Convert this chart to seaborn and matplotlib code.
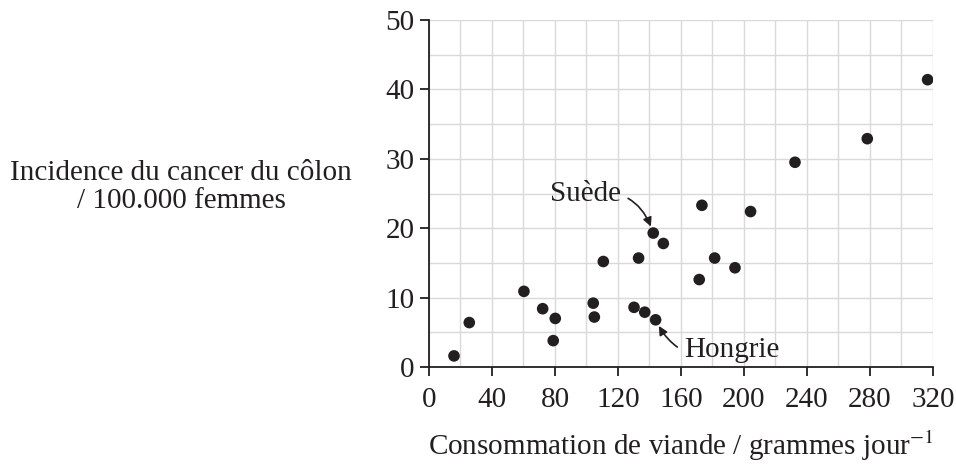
import numpy as np
import pandas as pd
import matplotlib
matplotlib.use("Agg")
import matplotlib.pyplot as plt
import seaborn as sns
from matplotlib.ticker import MultipleLocator

# Meat consumption (g/day) vs colon cancer incidence per 100,000 women
viande = [15.9, 25.6, 60.3, 72.2, 80.2, 78.9, 104.3, 105.0, 110.7, 133.1,
          142.4, 148.8, 130.2, 137.0, 143.9, 173.3, 204.2, 181.4, 194.3,
          171.6, 232.4, 278.3, 316.6]
incidence = [1.6, 6.4, 10.9, 8.4, 7.0, 3.8, 9.2, 7.2, 15.2, 15.7,
             19.3, 17.8, 8.6, 7.9, 6.8, 23.3, 22.4, 15.7, 14.3,
             12.6, 29.5, 32.9, 41.4]

x_ticks = [0, 40, 80, 120, 160, 200, 240, 280, 320]
y_ticks = [0, 10, 20, 30, 40, 50]

df = pd.DataFrame({"viande": viande, "incidence": incidence})

sns.set_theme(style="white")
plt.rcParams["font.family"] = ["Liberation Serif", "DejaVu Serif"]
plt.rcParams["mathtext.fontset"] = "stix"

FS = 21
INK = "#231f20"

fig = plt.figure(figsize=(9.56, 4.73), dpi=100)
ax = fig.add_axes([0.4487, 0.2241, 0.5272, 0.7336])

sns.scatterplot(data=df, x="viande", y="incidence", ax=ax, color=INK,
                s=70, edgecolor="none", zorder=3, legend=False)

ax.set_xlim(0, 320)
ax.set_ylim(0, 50)
ax.set_xticks(x_ticks)
ax.set_yticks(y_ticks)
ax.xaxis.set_minor_locator(MultipleLocator(20))
ax.yaxis.set_minor_locator(MultipleLocator(5))
ax.grid(which="both", color="#d9d9d9", linewidth=1.0, zorder=0)
ax.set_axisbelow(True)

for side in ["top", "right"]:
    ax.spines[side].set_visible(False)
for side in ["left", "bottom"]:
    ax.spines[side].set_color(INK)
    ax.spines[side].set_linewidth(1.3)

ax.tick_params(which="major", direction="out", length=6.5, width=1.3,
               color=INK, labelsize=FS, labelcolor=INK, pad=4,
               left=True, bottom=True)
ax.tick_params(axis="x", which="major", pad=8)
ax.tick_params(which="minor", length=0)
ax.set_xlabel("")
ax.set_ylabel("")

fig.text(181 / 956, 1 - 187 / 473,
         "Incidence du cancer du côlon\n/ 100.000 femmes",
         ha="center", va="center", fontsize=FS, color=INK,
         linespacing=1.1)
fig.text(681 / 956, 1 - 446 / 473,
         "Consommation de viande / grammes jour$^{-1}$",
         ha="center", va="center", fontsize=FS, color=INK)

arrow = dict(arrowstyle="-|>", color=INK, lw=1.2,
             mutation_scale=13, shrinkA=3, shrinkB=5)
ax.annotate("Suède", xy=(142.4, 19.3), xytext=(122, 24.9),
            ha="right", va="center", fontsize=FS, color=INK,
            arrowprops=dict(arrow, connectionstyle="arc3,rad=-0.45"))
ax.annotate("Hongrie", xy=(143.9, 6.8), xytext=(162, 2.4),
            ha="left", va="center", fontsize=FS, color=INK,
            arrowprops=dict(arrow, connectionstyle="arc3,rad=-0.45"))

fig.savefig("out.png", dpi=100)
